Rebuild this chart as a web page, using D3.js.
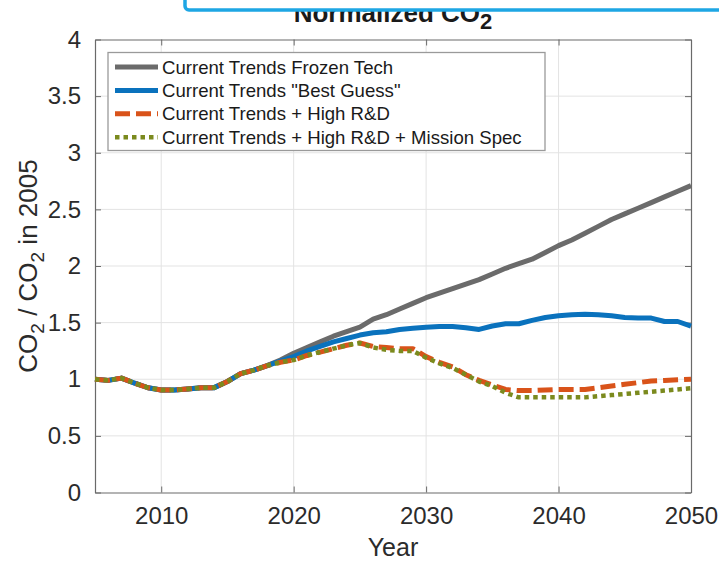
<!DOCTYPE html>
<html>
<head>
<meta charset="utf-8">
<script src="https://cdn.jsdelivr.net/npm/d3@7"></script>
<style>
  html, body { margin: 0; padding: 0; background: #fff; }
  svg { display: block; font-family: "Liberation Sans", Arial, Helvetica, sans-serif; }
</style>
</head>
<body>
<svg id="chart" width="719" height="562"></svg>
<script>
// Years of the projection
const years = [2005, 2006, 2007, 2008, 2009, 2010, 2011, 2012, 2013, 2014,
  2015, 2016, 2017, 2018, 2019, 2020, 2021, 2022, 2023, 2024,
  2025, 2026, 2027, 2028, 2029, 2030, 2031, 2032, 2033, 2034,
  2035, 2036, 2037, 2038, 2039, 2040, 2041, 2042, 2043, 2044,
  2045, 2046, 2047, 2048, 2049, 2050];

// CO2 normalised to the 2005 level, one array per scenario
const frozenTech = [1.00, 0.99, 1.01, 0.965, 0.925, 0.905, 0.905, 0.914, 0.925, 0.926,
  0.98, 1.05, 1.08, 1.12, 1.17, 1.23, 1.28, 1.33, 1.38, 1.42,
  1.46, 1.53, 1.57, 1.62, 1.67, 1.72, 1.76, 1.80, 1.84, 1.88,
  1.93, 1.98, 2.02, 2.06, 2.12, 2.18, 2.23, 2.29, 2.35, 2.41,
  2.46, 2.51, 2.56, 2.61, 2.66, 2.71];

const bestGuess = [1.00, 0.99, 1.01, 0.965, 0.925, 0.905, 0.905, 0.914, 0.925, 0.926,
  0.98, 1.05, 1.08, 1.12, 1.16, 1.20, 1.25, 1.29, 1.33, 1.36,
  1.39, 1.41, 1.42, 1.44, 1.45, 1.46, 1.465, 1.465, 1.455, 1.44,
  1.47, 1.49, 1.49, 1.52, 1.545, 1.56, 1.57, 1.575, 1.57, 1.56,
  1.545, 1.54, 1.54, 1.51, 1.51, 1.47];

const highRD = [1.00, 0.99, 1.01, 0.965, 0.925, 0.905, 0.905, 0.914, 0.925, 0.926,
  0.98, 1.05, 1.08, 1.12, 1.15, 1.17, 1.21, 1.24, 1.27, 1.30,
  1.32, 1.29, 1.28, 1.27, 1.27, 1.20, 1.15, 1.11, 1.04, 0.99,
  0.95, 0.91, 0.90, 0.90, 0.905, 0.91, 0.91, 0.91, 0.925, 0.94,
  0.955, 0.97, 0.985, 0.99, 0.995, 1.00];

const missionSpec = [1.00, 0.99, 1.01, 0.965, 0.925, 0.905, 0.905, 0.914, 0.925, 0.926,
  0.98, 1.05, 1.08, 1.12, 1.15, 1.17, 1.21, 1.24, 1.27, 1.30,
  1.32, 1.28, 1.26, 1.25, 1.25, 1.19, 1.14, 1.10, 1.04, 0.98,
  0.94, 0.88, 0.84, 0.84, 0.84, 0.84, 0.84, 0.84, 0.85, 0.86,
  0.87, 0.88, 0.89, 0.90, 0.91, 0.92];

const seriesNames = ["Current Trends Frozen Tech", "Current Trends \"Best Guess\"",
  "Current Trends + High R&D", "Current Trends + High R&D + Mission Spec"];

const xTicks = [2010, 2020, 2030, 2040, 2050];
const yTicks = [0, 0.5, 1, 1.5, 2, 2.5, 3, 3.5, 4];

// Drawing styles for each scenario
const styles = [
  { color: "#6b6b6b", dash: null, width: 5 },
  { color: "#0a72bd", dash: null, width: 5 },
  { color: "#d9531a", dash: "15,6", width: 5 },
  { color: "#7b8a1e", dash: "4.5,4", width: 4.5 }
];
const seriesData = [frozenTech, bestGuess, highRD, missionSpec];

const svg = d3.select("#chart");
const margin = { left: 95, right: 28, top: 39.5, bottom: 69.5 };
const W = 719, H = 562;
const x0 = margin.left, x1 = W - margin.right;
const y0 = H - margin.bottom, y1 = margin.top;

const x = d3.scaleLinear().domain([2005, 2050]).range([x0, x1]);
const y = d3.scaleLinear().domain([0, 4]).range([y0, y1]);

// Grid
const grid = svg.append("g");
grid.selectAll("line.gx").data(xTicks.filter(t => t < 2050)).join("line")
  .attr("x1", d => x(d)).attr("x2", d => x(d))
  .attr("y1", y0).attr("y2", y1)
  .attr("stroke", "#e3e3e3").attr("stroke-width", 1);
grid.selectAll("line.gy").data(yTicks.filter(t => t > 0 && t < 4)).join("line")
  .attr("x1", x0).attr("x2", x1)
  .attr("y1", d => y(d)).attr("y2", d => y(d))
  .attr("stroke", "#e3e3e3").attr("stroke-width", 1);

// Axes with inward ticks (box style)
const axisColor = "#6a6a6a";
const tickLen = 6;
const tickFont = 24;

const bottomAxis = d3.axisBottom(x).tickValues(xTicks).tickSizeInner(-tickLen).tickSizeOuter(0).tickPadding(14).tickFormat(d3.format("d"));
const gx = svg.append("g").attr("transform", `translate(0,${y0})`).call(bottomAxis);
const topAxis = d3.axisTop(x).tickValues(xTicks).tickSizeInner(-tickLen).tickSizeOuter(0).tickFormat("");
const gxt = svg.append("g").attr("transform", `translate(0,${y1})`).call(topAxis);
const leftAxis = d3.axisLeft(y).tickValues(yTicks).tickSizeInner(-tickLen).tickSizeOuter(0).tickPadding(14).tickFormat(d3.format("~g"));
const gy = svg.append("g").attr("transform", `translate(${x0},0)`).call(leftAxis);
const rightAxis = d3.axisRight(y).tickValues(yTicks).tickSizeInner(-tickLen).tickSizeOuter(0).tickFormat("");
const gyr = svg.append("g").attr("transform", `translate(${x1},0)`).call(rightAxis);

[gx, gxt, gy, gyr].forEach(g => {
  g.select(".domain").attr("stroke", axisColor).attr("stroke-width", 1.2);
  g.selectAll(".tick line").attr("stroke", axisColor).attr("stroke-width", 1);
  g.selectAll(".tick text").attr("fill", "#2b2b2b").style("font-size", tickFont + "px")
    .style("font-family", "\"Liberation Sans\", Arial, sans-serif");
});
gx.selectAll(".tick text").attr("dy", "0.71em");

// Series lines
const line = d3.line().x((d, i) => x(years[i])).y(d => y(d));
const plot = svg.append("g");
seriesData.forEach((vals, k) => {
  const s = styles[k];
  plot.append("path").datum(vals)
    .attr("d", line)
    .attr("fill", "none")
    .attr("stroke", s.color)
    .attr("stroke-width", s.width)
    .attr("stroke-linejoin", "round")
    .attr("stroke-dasharray", s.dash);
});

// Legend
const lg = svg.append("g");
const legX = 108, legY = 52.5, legW = 437, legH = 98;
lg.append("rect").attr("x", legX).attr("y", legY).attr("width", legW).attr("height", legH)
  .attr("fill", "#fff").attr("stroke", "#9a9a9a").attr("stroke-width", 1.3);
seriesNames.forEach((name, k) => {
  const s = styles[k];
  const cy = legY + 14.5 + k * 23.4;
  lg.append("line").attr("x1", legX + 7).attr("x2", legX + 50)
    .attr("y1", cy).attr("y2", cy)
    .attr("stroke", s.color).attr("stroke-width", s.width)
    .attr("stroke-dasharray", s.dash);
  lg.append("text").attr("x", legX + 54).attr("y", cy).attr("dy", "0.35em")
    .style("font-size", "18.6px").attr("fill", "#1a1a1a").text(name);
});

// Axis labels
svg.append("text").attr("x", (x0 + x1) / 2).attr("y", 556)
  .attr("text-anchor", "middle").style("font-size", "25px").attr("fill", "#2b2b2b")
  .text("Year");

const yl = svg.append("text")
  .attr("transform", `translate(37,${(y0 + y1) / 2}) rotate(-90)`)
  .attr("text-anchor", "middle").style("font-size", "26px").attr("fill", "#2b2b2b");
yl.append("tspan").text("CO");
yl.append("tspan").text("2").style("font-size", "19px").attr("dy", 7);
yl.append("tspan").text(" / CO").attr("dy", -7);
yl.append("tspan").text("2").style("font-size", "19px").attr("dy", 7);
yl.append("tspan").text(" in 2005").attr("dy", -7);

// Title
const title = svg.append("text").attr("x", (x0 + x1) / 2).attr("y", 22)
  .attr("text-anchor", "middle").style("font-size", "26px").style("font-weight", "bold")
  .attr("fill", "#1a1a1a");
title.append("tspan").text("Normalized CO");
title.append("tspan").text("2").style("font-size", "22px").attr("dy", 7);

// Overlay box across the top
svg.append("rect").attr("x", 185).attr("y", -30).attr("width", 600).attr("height", 40)
  .attr("rx", 4).attr("fill", "#fff").attr("stroke", "#1ea6e4").attr("stroke-width", 3.5);
</script>
</body>
</html>
